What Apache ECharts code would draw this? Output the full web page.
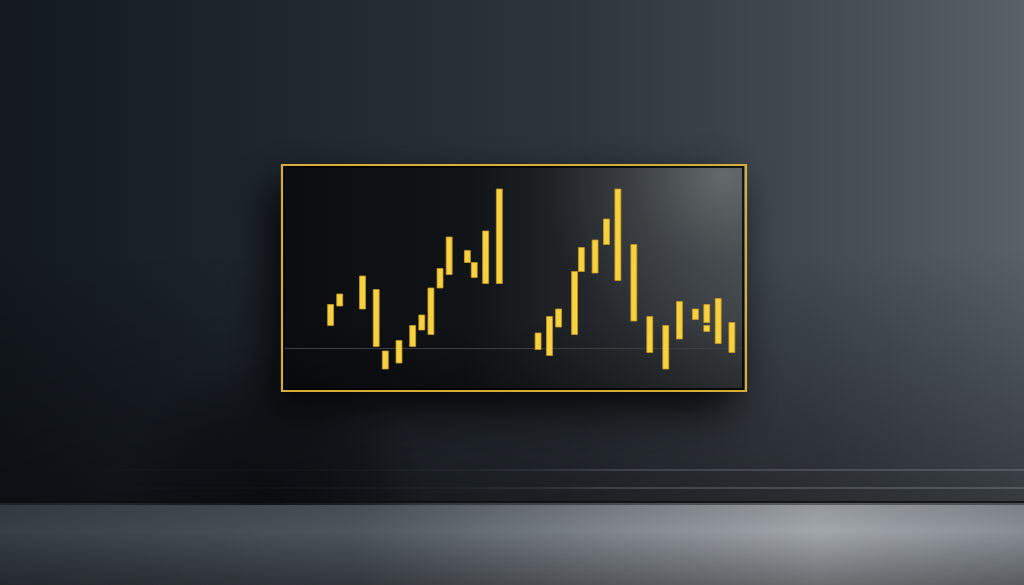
<!DOCTYPE html>
<html>
<head>
<meta charset="utf-8">
<style>html,body{margin:0;padding:0;background:#1c2228;}#c{width:1024px;height:585px;}</style>
<script src="https://cdn.jsdelivr.net/npm/echarts@6/dist/echarts.min.js"></script>
</head>
<body>
<div id="c"></div>
<script>
// Position along the time axis (days) for each floating bar
const days  = [10, 12, 17, 20, 22, 25, 28, 30, 32, 34, 36, 40, 41.5, 44, 47,
               55.5, 58, 60, 63.5, 65, 68, 70.5, 73, 76.5, 80, 83.5, 86.5, 90, 92.5, 92.5, 95, 98];
// Low and high value of each bar
const lows  = [15, 28, 26, 1, -14, -10, 1, 12, 9, 40, 49, 57, 47, 43, 43,
               -1, -5, 14, 9, 51, 50, 69, 45, 18, -3, -14, 6, 19, 17, 11, 3, -3];
const highs = [29, 36, 48, 39, -2, 5, 15, 22, 40, 53, 74, 65, 57, 78, 106,
               10, 21, 26, 51, 67, 72, 86, 106, 69, 21, 15, 31, 26, 29, 15, 33, 17];

const seriesData = days.map((d, i) => [d, lows[i], highs[i]]);

const chart = echarts.init(document.getElementById('c'), null, {renderer: 'canvas'});

const option = {
  animation: false,
  backgroundColor: '#1c2228',
  graphic: [
    // wall
    { type: 'rect', z: -20, silent: true,
      shape: {x: 0, y: 0, width: 1024, height: 505},
      style: { fill: new echarts.graphic.LinearGradient(0, 0, 1, 0, [
        {offset: 0, color: '#13191f'},
        {offset: 0.25, color: '#1e252d'},
        {offset: 0.55, color: '#2d343c'},
        {offset: 0.8, color: '#434a52'},
        {offset: 1, color: '#586068'}
      ]) } },
    // wall lower darkening
    { type: 'rect', z: -19, silent: true,
      shape: {x: 0, y: 250, width: 1024, height: 255},
      style: { fill: new echarts.graphic.LinearGradient(0, 0, 0, 1, [
        {offset: 0, color: 'rgba(0,0,0,0)'},
        {offset: 1, color: 'rgba(0,0,0,0.4)'}
      ]) } },
    // soft shadow pool under the frame, left side
    { type: 'rect', z: -18, silent: true,
      shape: {x: -200, y: 300, width: 1050, height: 205},
      style: { fill: new echarts.graphic.RadialGradient(0.45, 1, 0.75, [
        {offset: 0, color: 'rgba(4,6,8,0.6)'},
        {offset: 0.6, color: 'rgba(4,6,8,0.35)'},
        {offset: 1, color: 'rgba(4,6,8,0)'}
      ]) } },
    // baseboard lines
    { type: 'line', z: -17, silent: true,
      shape: {x1: 0, y1: 470, x2: 1024, y2: 470},
      style: { lineWidth: 1, stroke: new echarts.graphic.LinearGradient(0, 0, 1, 0, [
        {offset: 0, color: 'rgba(90,96,104,0)'},
        {offset: 0.45, color: 'rgba(90,96,104,0.15)'},
        {offset: 0.6, color: 'rgba(110,116,124,0.7)'},
        {offset: 1, color: 'rgba(120,126,134,0.85)'}
      ]) } },
    { type: 'line', z: -17, silent: true,
      shape: {x1: 0, y1: 488, x2: 1024, y2: 488},
      style: { lineWidth: 1, stroke: new echarts.graphic.LinearGradient(0, 0, 1, 0, [
        {offset: 0, color: 'rgba(90,96,104,0)'},
        {offset: 0.45, color: 'rgba(90,96,104,0.15)'},
        {offset: 0.6, color: 'rgba(110,116,124,0.7)'},
        {offset: 1, color: 'rgba(120,126,134,0.85)'}
      ]) } },
    // floor
    { type: 'rect', z: -20, silent: true,
      shape: {x: 0, y: 502, width: 1024, height: 83},
      style: { fill: new echarts.graphic.LinearGradient(0, 0, 1, 0, [
        {offset: 0, color: '#373e46'},
        {offset: 0.35, color: '#4e555d'},
        {offset: 0.6, color: '#80868c'},
        {offset: 0.8, color: '#a2a7ac'},
        {offset: 1, color: '#878d93'}
      ]) } },
    { type: 'rect', z: -19, silent: true,
      shape: {x: 0, y: 502, width: 1024, height: 83},
      style: { fill: new echarts.graphic.LinearGradient(0, 0, 0, 1, [
        {offset: 0, color: 'rgba(0,0,0,0.1)'},
        {offset: 0.35, color: 'rgba(0,0,0,0)'},
        {offset: 1, color: 'rgba(0,0,0,0.35)'}
      ]) } },
    { type: 'line', z: -18, silent: true,
      shape: {x1: 0, y1: 502, x2: 1024, y2: 502},
      style: { lineWidth: 2, stroke: 'rgba(10,12,14,0.8)' } },
    // frame shadow
    { type: 'rect', z: -15, silent: true,
      shape: {x: 281, y: 164, width: 466, height: 228},
      style: { fill: '#0a0c0e', shadowBlur: 40, shadowColor: 'rgba(0,0,0,0.85)', shadowOffsetX: -12, shadowOffsetY: 18 } },
    // screen
    { type: 'rect', z: -14, silent: true,
      shape: {x: 281, y: 164, width: 466, height: 228},
      style: { fill: new echarts.graphic.LinearGradient(0, 0, 1, 0, [
        {offset: 0, color: '#0b0d0f'},
        {offset: 0.4, color: '#111417'},
        {offset: 0.7, color: '#25292d'},
        {offset: 1, color: '#3c4145'}
      ]) } },
    { type: 'rect', z: -13, silent: true,
      shape: {x: 281, y: 164, width: 466, height: 228},
      style: { fill: new echarts.graphic.RadialGradient(0.95, 0.05, 0.8, [
        {offset: 0, color: 'rgba(115,120,123,0.75)'},
        {offset: 0.5, color: 'rgba(100,105,108,0.3)'},
        {offset: 1, color: 'rgba(100,105,108,0)'}
      ]) } },
    { type: 'rect', z: -13, silent: true,
      shape: {x: 281, y: 320, width: 466, height: 72},
      style: { fill: new echarts.graphic.LinearGradient(0, 0, 0, 1, [
        {offset: 0, color: 'rgba(0,0,0,0)'},
        {offset: 1, color: 'rgba(0,0,0,0.3)'}
      ]) } },
    // inner dark border
    { type: 'rect', z: -12, silent: true,
      shape: {x: 284, y: 167, width: 459, height: 222},
      style: { fill: 'none', stroke: 'rgba(0,0,0,0.8)', lineWidth: 2 } },
    // gold frame
    { type: 'rect', z: 10, silent: true,
      shape: {x: 282, y: 165, width: 464, height: 226},
      style: { fill: 'none', stroke: '#d6ad36', lineWidth: 2.2 } }
  ],
  grid: { left: 285, top: 168, width: 456, height: 217.5, containLabel: false },
  xAxis: {
    type: 'value', min: 0, max: 100,
    axisLine: { show: true, onZero: true, lineStyle: { color: '#3a3f43', width: 1 } },
    axisTick: { show: false }, axisLabel: { show: false }, splitLine: { show: false }
  },
  yAxis: {
    type: 'value', min: -25, max: 120,
    axisLine: { show: false }, axisTick: { show: false }, axisLabel: { show: false }, splitLine: { show: false }
  },
  series: [{
    type: 'custom',
    z: 5,
    data: seriesData,
    encode: { x: 0, y: [1, 2] },
    renderItem: function (params, api) {
      const top = api.coord([api.value(0), api.value(2)]);
      const bot = api.coord([api.value(0), api.value(1)]);
      const w = api.size([1.3, 0])[0];
      return {
        type: 'rect',
        shape: { x: top[0] - w / 2, y: top[1], width: w, height: bot[1] - top[1] },
        style: { fill: '#f6d242', stroke: '#c9991c', lineWidth: 0.8 }
      };
    }
  }]
};
chart.setOption(option);
</script>
</body>
</html>
